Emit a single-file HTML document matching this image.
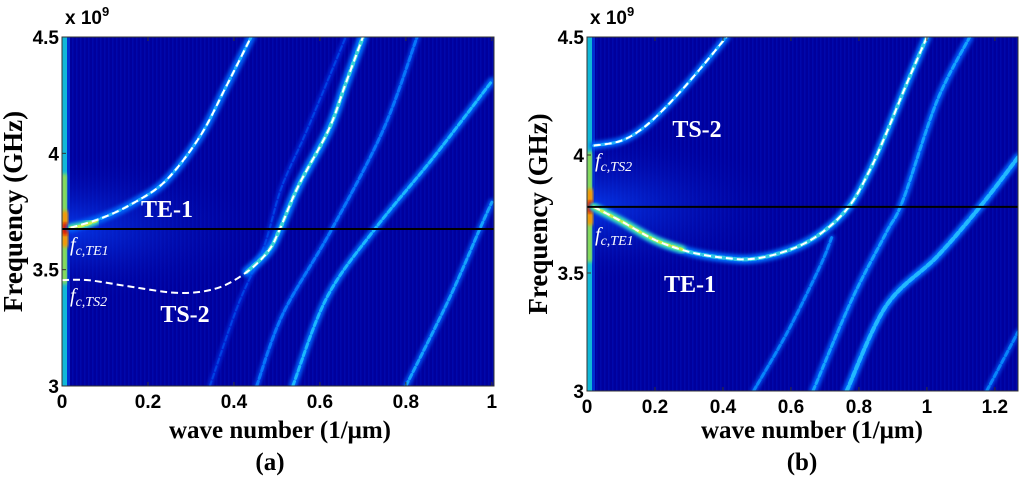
<!DOCTYPE html>
<html><head><meta charset="utf-8"><style>
html,body{margin:0;padding:0;background:#fff;}
svg{display:block;}
.tk{font-family:"Liberation Sans",sans-serif;font-weight:bold;font-size:19px;fill:#000;}
.ti{font-family:"Liberation Serif",serif;font-weight:bold;font-size:25px;fill:#000;}
.yti{font-family:"Liberation Serif",serif;font-weight:bold;font-size:27px;fill:#000;}
.ml{font-family:"Liberation Serif",serif;font-weight:bold;font-size:24px;fill:#fff;}
.fc{font-family:"Liberation Serif",serif;font-style:italic;font-size:20px;fill:#fff;}
</style></head><body>
<svg id="chart" width="1024" height="477" viewBox="0 0 1024 477">
<defs>
<filter id="blur" x="-10%" y="-10%" width="120%" height="120%"><feGaussianBlur stdDeviation="1.8"/></filter>
<radialGradient id="glowA" cx="0.5" cy="0.5" r="0.5"><stop offset="0" stop-color="#0848ff" stop-opacity="0.75"/><stop offset="1" stop-color="#0000a0" stop-opacity="0"/></radialGradient>
<pattern id="stripes" width="4" height="4" patternUnits="userSpaceOnUse"><rect width="4" height="4" fill="#00009c"/><rect width="1.5" height="4" fill="#0008ac"/></pattern>
</defs>
<g id="panels"></g>
</svg>
<script>
// ---------- Panel (a) data ----------
const aXTicks = [0, 0.2, 0.4, 0.6, 0.8, 1];
const aXTickLabels = ["0", "0.2", "0.4", "0.6", "0.8", "1"];
const yTicks = [3, 3.5, 4, 4.5];
const yTickLabels = ["3", "3.5", "4", "4.5"];
const aLineF = 3.675;
const aTE1k = [0.02, 0.09, 0.16, 0.24, 0.32, 0.38, 0.44];
const aTE1f = [3.68, 3.72, 3.78, 3.88, 4.07, 4.28, 4.5];
const aTS2k = [0, 0.06, 0.15, 0.27, 0.36, 0.43, 0.48, 0.507, 0.55, 0.62, 0.66, 0.70];
const aTS2f = [3.455, 3.455, 3.43, 3.40, 3.42, 3.49, 3.58, 3.675, 3.86, 4.1, 4.3, 4.5];
const aB1k = [0.344, 0.41, 0.47, 0.51, 0.57, 0.66];
const aB1f = [3.0, 3.35, 3.6, 3.85, 4.1, 4.5];
const aB2k = [0.453, 0.514, 0.628, 0.747, 0.826];
const aB2f = [3.0, 3.31, 3.675, 4.1, 4.5];
const aB3k = [0.537, 0.616, 0.728, 0.863, 1.0];
const aB3f = [3.0, 3.38, 3.675, 3.98, 4.31];
const aB4k = [0.80, 0.902, 0.972, 1.0];
const aB4f = [3.0, 3.38, 3.675, 3.79];
// ---------- Panel (b) data ----------
const bXTicks = [0, 0.2, 0.4, 0.6, 0.8, 1, 1.2];
const bXTickLabels = ["0", "0.2", "0.4", "0.6", "0.8", "1", "1.2"];
const bLineF = 3.78;
const bTS2k = [0.02, 0.1, 0.17, 0.25, 0.33, 0.41];
const bTS2f = [4.04, 4.06, 4.12, 4.23, 4.36, 4.5];
const bTE1k = [0.02, 0.1, 0.2, 0.3, 0.4, 0.49, 0.6, 0.69, 0.77, 0.83, 0.88, 0.94, 1.0];
const bTE1f = [3.78, 3.72, 3.64, 3.59, 3.565, 3.56, 3.6, 3.67, 3.78, 3.93, 4.09, 4.3, 4.5];
const bB1k = [0.49, 0.59, 0.686, 0.72];
const bB1f = [3.0, 3.25, 3.53, 3.65];
const bB2k = [0.665, 0.78, 0.88, 0.93, 1.03, 1.126];
const bB2f = [3.0, 3.39, 3.67, 3.81, 4.23, 4.5];
const bB3k = [0.764, 0.88, 1.03, 1.156, 1.268];
const bB3f = [3.0, 3.36, 3.57, 3.78, 3.99];
const bB4k = [1.176, 1.268];
const bB4f = [3.0, 3.25];

const NS = "http://www.w3.org/2000/svg";
const root = document.getElementById("panels");
function mk(tag, attrs, parent) {
  const e = document.createElementNS(NS, tag);
  for (const k in attrs) e.setAttribute(k, attrs[k]);
  (parent || root).appendChild(e);
  return e;
}
function smoothPath(P) {
  if (P.length < 3) return "M" + P.map(p => p[0].toFixed(1) + "," + p[1].toFixed(1)).join(" L");
  let d = "M" + P[0][0].toFixed(1) + "," + P[0][1].toFixed(1);
  for (let i = 0; i < P.length - 1; i++) {
    const p0 = P[Math.max(0, i - 1)], p1 = P[i], p2 = P[i + 1], p3 = P[Math.min(P.length - 1, i + 2)];
    const c1 = [p1[0] + (p2[0] - p0[0]) / 6, p1[1] + (p2[1] - p0[1]) / 6];
    const c2 = [p2[0] - (p3[0] - p1[0]) / 6, p2[1] - (p3[1] - p1[1]) / 6];
    d += " C" + c1.map(v => v.toFixed(1)).join(",") + " " + c2.map(v => v.toFixed(1)).join(",") + " " + p2.map(v => v.toFixed(1)).join(",");
  }
  return d;
}

function drawPanel(p) {
  const g = mk("g", {});
  
  
  const xS = k => p.x0 + (k - p.kMin) / (p.kMax - p.kMin) * (p.x1 - p.x0);
  const yS = f => p.y1 - (f - 3) / 1.5 * (p.y1 - p.y0);
  const W = p.x1 - p.x0, H = p.y1 - p.y0;
  const clipId = "clip" + p.name;
  const cp = mk("clipPath", {id: clipId}, g);
  mk("rect", {x: p.x0, y: p.y0, width: W, height: H}, cp);
  const plot = mk("g", {"clip-path": "url(#" + clipId + ")"}, g);
  const bg = mk("rect", {x: p.x0, y: p.y0, width: W, height: H, fill: "url(#stripes)"}, plot);
  
  
  mk("ellipse", {cx: p.x0, cy: yS(p.lineF), rx: W * 0.5, ry: H * 0.22, fill: "url(#glowA)"}, plot);
  const vs = mk("rect", {x: p.x0, y: p.y0, width: 5, height: H, fill: "#10b8d8"}, plot);
  
  
  mk("rect", {x: p.x0 + 5, y: p.y0, width: 3, height: H, fill: "#0030d0"}, plot);
  mk("rect", {x: p.x0, y: yS(p.lineF) - 55, width: 5, height: 110, fill: "#a0e040", filter: "url(#blur)"}, plot);
  mk("rect", {x: p.x0, y: yS(p.lineF) - 18, width: 6, height: 36, fill: "#ff9000", filter: "url(#blur)"}, plot);
  mk("rect", {x: p.x0, y: yS(p.lineF) - 6, width: 6, height: 12, fill: "#e01000", filter: "url(#blur)"}, plot);
  const pts = (ks, fs) => smoothPath(ks.map((k, i) => [xS(k), yS(fs[i])]));
  function band(ks, fs, name, outer, inner, wo, wi) {
    const bg2 = mk("g", {}, plot);
    
    
    mk("path", {d: pts(ks, fs), fill: "none", stroke: outer, "stroke-width": wo, "stroke-linecap": "round", filter: "url(#blur)"}, bg2);
    mk("path", {d: pts(ks, fs), fill: "none", stroke: inner, "stroke-width": wi, "stroke-linecap": "round", "stroke-dasharray": "5 3", opacity: 0.85}, bg2);
  }
  p.bands.forEach(b => band(b[0], b[1], b[2], b[3], b[4], b[5], b[6]));
  band(p.hot[0], p.hot[1], "hot-segment", "#50f0a0", "#e0f040", 7, 3);
  p.dashed.forEach(d => {
    const dl = mk("path", {d: pts(d[0], d[1]), fill: "none", stroke: "#fff", "stroke-width": 2, "stroke-dasharray": "7 4"}, plot);
    
    
  });
  const hl = mk("line", {x1: p.x0, x2: p.x1, y1: yS(p.lineF), y2: yS(p.lineF), stroke: "#000", "stroke-width": 2}, plot);
  
  
  const fr = mk("rect", {x: p.x0, y: p.y0, width: W, height: H, fill: "none", stroke: "#333", "stroke-width": 1}, g);
  
  
  p.xTicks.forEach((t, i) => {
    const x = xS(t);
    mk("line", {x1: x, x2: x, y1: p.y1, y2: p.y1 - 4, stroke: "#333"}, g);
    mk("line", {x1: x, x2: x, y1: p.y0, y2: p.y0 + 4, stroke: "#333"}, g);
    const tl = mk("text", {x: x, y: p.y1 + 22, "text-anchor": "middle", class: "tk"}, g);
    tl.textContent = p.xTickLabels[i];
    
    
  });
  yTicks.forEach((t, i) => {
    const y = yS(t);
    mk("line", {x1: p.x0, x2: p.x0 + 4, y1: y, y2: y, stroke: "#333"}, g);
    const tl = mk("text", {x: p.x0 - 3, y: y + 7, "text-anchor": "end", class: "tk"}, g);
    tl.textContent = yTickLabels[i];
    
    
  });
  const ex = mk("text", {x: p.x0 + 3, y: 24, class: "tk"}, g);
  ex.innerHTML = 'x 10<tspan dy="-8" font-size="13">9</tspan>';
  
  
  const yt = mk("text", {x: 0, y: 0, "text-anchor": "middle", class: "yti", transform: "translate(" + (p.x0 - 40) + "," + ((p.y0 + p.y1) / 2) + ") rotate(-90)"}, g);
  yt.textContent = "Frequency (GHz)";
  
  
  const xt = mk("text", {x: p.xtX, y: 438, "text-anchor": "middle", class: "ti"}, g);
  xt.textContent = "wave number (1/\u03bcm)";
  
  
  const cap = mk("text", {x: p.xtX - 10, y: 470, "text-anchor": "middle", class: "ti"}, g);
  cap.textContent = p.caption;
  
  
  p.labels.forEach(l => {
    const t = mk("text", {x: l[0], y: l[1], "text-anchor": "middle", class: "ml"}, g);
    t.textContent = l[2];
    
    
  });
  p.fcs.forEach(l => {
    const t = mk("text", {x: l[0], y: l[1], class: "fc"}, g);
    t.innerHTML = 'f<tspan dy="4" font-size="14">c,' + l[2] + '</tspan>';
    
    
  });
}

drawPanel({
  name: "panel-a", x0: 62, x1: 494, y0: 37, y1: 386, kMin: 0, kMax: 1.005,
  xTicks: aXTicks, xTickLabels: aXTickLabels, lineF: aLineF, xtX: 280, caption: "(a)",
  bands: [
    [aB1k, aB1f, "band-1", "#0028d8", "#0048e8", 5, 2],
    [aB2k, aB2f, "band-2", "#0040e8", "#0880ff", 6, 3],
    [aB3k, aB3f, "band-3", "#0060f8", "#20c8ff", 8, 3],
    [aB4k, aB4f, "band-4", "#0050f0", "#18b0ff", 7, 3],
    [aTE1k, aTE1f, "te1-band", "#0060f8", "#28c0ff", 9, 3],
    [aTS2k.slice(5), aTS2f.slice(5), "ts2-band", "#0070ff", "#40e0d0", 10, 4]
  ],
  hot: [[0.02, 0.05, 0.08], [3.68, 3.69, 3.71]],
  dashed: [[aTE1k, aTE1f, "te1-dashed"], [aTS2k, aTS2f, "ts2-dashed"]],
  labels: [[167, 217, "TE-1"], [185, 322, "TS-2"]],
  fcs: [[70, 251, "TE1"], [70, 302, "TS2"]]
});
drawPanel({
  name: "panel-b", x0: 587, x1: 1018, y0: 37, y1: 391, kMin: 0, kMax: 1.268,
  xTicks: bXTicks, xTickLabels: bXTickLabels, lineF: bLineF, xtX: 812, caption: "(b)",
  bands: [
    [bB1k, bB1f, "band-1", "#0048e8", "#0890ff", 6, 3],
    [bB2k, bB2f, "band-2", "#0058f8", "#18b0ff", 8, 3],
    [bB3k, bB3f, "band-3", "#0068ff", "#28c8ff", 9, 4],
    [bB4k, bB4f, "band-4", "#0048e8", "#0890ff", 6, 3],
    [bTS2k, bTS2f, "ts2-band", "#0060f8", "#28c0ff", 8, 3],
    [bTE1k, bTE1f, "te1-band", "#0070ff", "#38d8e0", 9, 4]
  ],
  hot: [[0.02, 0.1, 0.2, 0.28], [3.78, 3.72, 3.64, 3.6]],
  dashed: [[bTS2k, bTS2f, "ts2-dashed"], [bTE1k, bTE1f, "te1-dashed"]],
  labels: [[697, 137, "TS-2"], [690, 292, "TE-1"]],
  fcs: [[595, 167, "TS2"], [595, 241, "TE1"]]
});
</script>
</body></html>
